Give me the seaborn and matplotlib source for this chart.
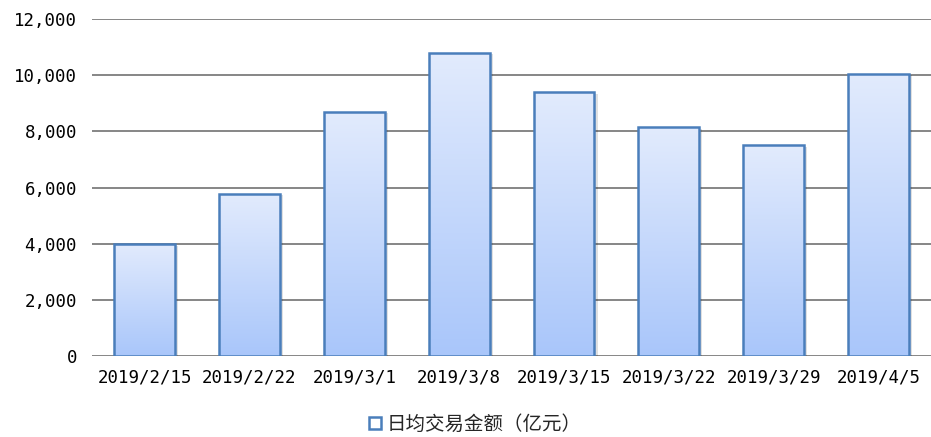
import numpy as np
import pandas as pd
import matplotlib.pyplot as plt
import seaborn as sns
from matplotlib.colors import LinearSegmentedColormap
from matplotlib.ticker import FuncFormatter

# data
dates = ['2019/2/15', '2019/2/22', '2019/3/1', '2019/3/8',
         '2019/3/15', '2019/3/22', '2019/3/29', '2019/4/5']
turnover = [3990, 5780, 8700, 10800, 9400, 8150, 7510, 10050]
series_name = '日均交易金额（亿元）'

df = pd.DataFrame({'date': dates, 'value': turnover})

sns.set_style("white")
# monospaced latin digits like the original, CJK fallback for the legend
plt.rcParams['font.family'] = ['DejaVu Sans Mono', 'Noto Sans CJK SC']

fig = plt.figure(figsize=(9.31, 4.37), dpi=100)
ax = fig.add_axes([0.099, 0.185, 0.901, 0.7715])

ax.yaxis.grid(True, color='#868686', linewidth=1.4)
ax.set_axisbelow(True)

sns.barplot(data=df, x='date', y='value', ax=ax, width=0.58,
            color='#c4d8fb', edgecolor='#4a7ebb', linewidth=1.8,
            label=series_name)

# vertical gradient fill clipped to each bar
cmap = LinearSegmentedColormap.from_list('grad', ['#a9c6fa', '#e2ebfd'])
grad = np.linspace(0, 1, 256).reshape(-1, 1)
for bar in ax.patches:
    x0, y0 = bar.get_x(), bar.get_y()
    w, h = bar.get_width(), bar.get_height()
    # soft shadow
    shadow = plt.Rectangle((x0 + 0.03, y0), w, h - 60, facecolor='#000000',
                           alpha=0.12, edgecolor='none', zorder=bar.get_zorder() - 0.1)
    ax.add_patch(shadow)
    im = ax.imshow(grad, cmap=cmap, origin='lower', aspect='auto',
                   extent=[x0, x0 + w, y0, y0 + h], zorder=bar.get_zorder())
    im.set_clip_path(bar)
    bar.set_facecolor('none')
    bar.set_zorder(bar.get_zorder() + 0.2)

ax.set_xlim(-0.5, len(dates) - 0.5)
ax.set_ylim(0, 12000)
ax.set_yticks(range(0, 12001, 2000))
ax.yaxis.set_major_formatter(FuncFormatter(lambda v, p: f'{int(v):,}'))
ax.set_xlabel('')
ax.set_ylabel('')
for s in ax.spines.values():
    s.set_visible(False)
ax.tick_params(axis='both', length=0, labelsize=12.5, colors='#000000')
ax.tick_params(axis='y', pad=11)
ax.tick_params(axis='x', pad=9)

ax.legend(loc='upper center', bbox_to_anchor=(0.457, -0.14), frameon=False,
          fontsize=14, handlelength=0.6, handleheight=0.6, handletextpad=0.3,
          borderaxespad=0.2)

plt.savefig('out.png', dpi=100)
